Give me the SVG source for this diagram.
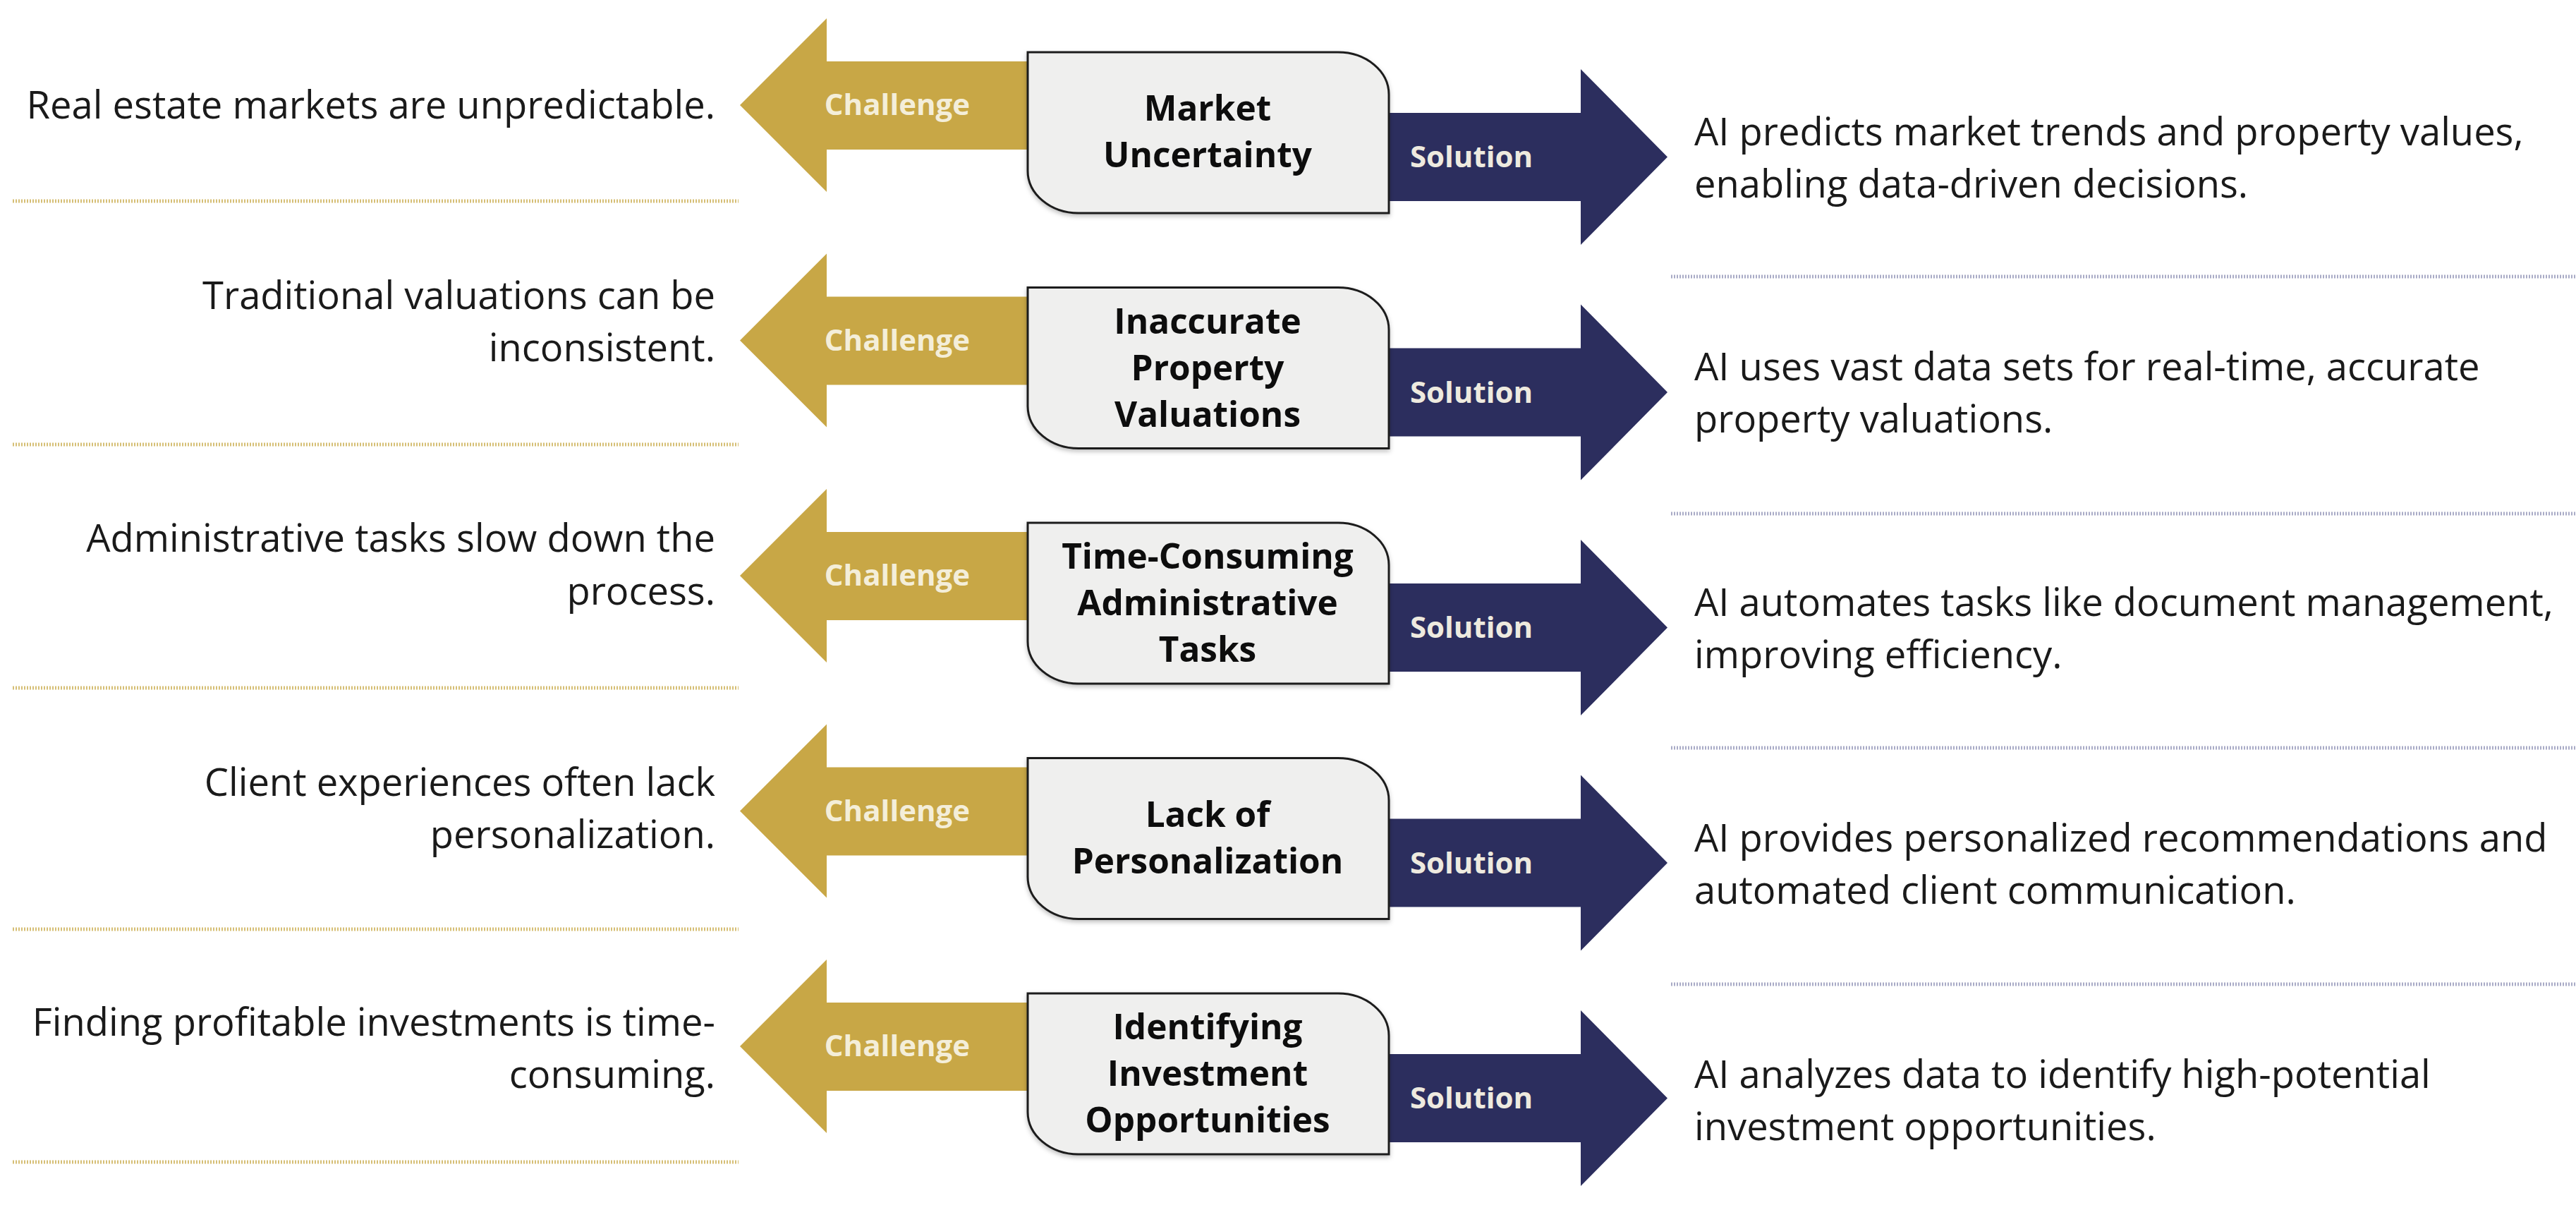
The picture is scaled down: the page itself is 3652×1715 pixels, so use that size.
<svg xmlns="http://www.w3.org/2000/svg" xmlns:xlink="http://www.w3.org/1999/xlink" width="3652" height="1715" viewBox="0 0 3652 1715">
<style>
.gold{fill:#C8A746}
.navy{fill:#2C2E5E}
.box{fill:#EFEFEE;stroke:#1E1E1E;stroke-width:3}
.lbl{font-family:"Open Sans","Liberation Sans",sans-serif;font-weight:700;font-size:42px;text-anchor:middle}
.clbl{fill:#F4EED9}
.slbl{fill:#EEEADF}
.title{font-family:"Open Sans","Liberation Sans",sans-serif;font-weight:700;font-size:49.5px;fill:#0D0D0D;text-anchor:middle}
.desc{font-family:"Open Sans","Liberation Sans",sans-serif;font-size:54.3px;fill:#1A1A1A}
.left{text-anchor:end}
.gline{stroke:#D6BF76;stroke-width:5;stroke-dasharray:2 2}
.bline{stroke:#A9ABC6;stroke-width:5;stroke-dasharray:2 2}
</style>
<defs>
<path id="garrow" d="M1049,149 L1172,26 L1172,87 L1470,87 L1470,212 L1172,212 L1172,272 Z"/>
<path id="barrow" d="M1960,160 L2241,160 L2241,98 L2364,222.5 L2241,347 L2241,285 L1960,285 Z"/>
<path id="nodebox" d="M1457,74 H1897 A72,60 0 0 1 1969,134 V302 H1529 A72,60 0 0 1 1457,242 Z"/>
<filter id="sh" x="-5%" y="-5%" width="110%" height="115%">
<feDropShadow dx="0" dy="3" stdDeviation="3" flood-color="#000" flood-opacity="0.25"/>
</filter>
</defs>
<rect width="3652" height="1715" fill="#FFFFFF"/>

<g id="separators">
<line class="gline" x1="18" y1="285" x2="1047" y2="285"/>
<line class="gline" x1="18" y1="630" x2="1047" y2="630"/>
<line class="gline" x1="18" y1="975" x2="1047" y2="975"/>
<line class="gline" x1="18" y1="1317" x2="1047" y2="1317"/>
<line class="gline" x1="18" y1="1647" x2="1047" y2="1647"/>
<line class="bline" x1="2369" y1="392" x2="3652" y2="392"/>
<line class="bline" x1="2369" y1="728" x2="3652" y2="728"/>
<line class="bline" x1="2369" y1="1060" x2="3652" y2="1060"/>
<line class="bline" x1="2369" y1="1395" x2="3652" y2="1395"/>
</g>

<g id="connectors">
<g id="challenge-1"><use xlink:href="#garrow" class="gold"/><text class="lbl clbl" x="1272" y="163">Challenge</text></g>
<g id="solution-1"><use xlink:href="#barrow" class="navy"/><text class="lbl slbl" x="2086" y="237">Solution</text></g>
<g id="challenge-2" transform="translate(0,333.5)"><use xlink:href="#garrow" class="gold"/><text class="lbl clbl" x="1272" y="163">Challenge</text></g>
<g id="solution-2" transform="translate(0,333.5)"><use xlink:href="#barrow" class="navy"/><text class="lbl slbl" x="2086" y="237">Solution</text></g>
<g id="challenge-3" transform="translate(0,667)"><use xlink:href="#garrow" class="gold"/><text class="lbl clbl" x="1272" y="163">Challenge</text></g>
<g id="solution-3" transform="translate(0,667)"><use xlink:href="#barrow" class="navy"/><text class="lbl slbl" x="2086" y="237">Solution</text></g>
<g id="challenge-4" transform="translate(0,1000.5)"><use xlink:href="#garrow" class="gold"/><text class="lbl clbl" x="1272" y="163">Challenge</text></g>
<g id="solution-4" transform="translate(0,1000.5)"><use xlink:href="#barrow" class="navy"/><text class="lbl slbl" x="2086" y="237">Solution</text></g>
<g id="challenge-5" transform="translate(0,1334)"><use xlink:href="#garrow" class="gold"/><text class="lbl clbl" x="1272" y="163">Challenge</text></g>
<g id="solution-5" transform="translate(0,1334)"><use xlink:href="#barrow" class="navy"/><text class="lbl slbl" x="2086" y="237">Solution</text></g>
</g>

<g id="node-market-uncertainty">
<use xlink:href="#nodebox" class="box" filter="url(#sh)"/>
<text class="title" x="1712" y="171">Market</text>
<text class="title" x="1712" y="237">Uncertainty</text>
</g>
<g id="node-inaccurate-valuations" transform="translate(0,333.5)">
<use xlink:href="#nodebox" class="box" filter="url(#sh)"/>
<text class="title" x="1712" y="139">Inaccurate</text>
<text class="title" x="1712" y="205">Property</text>
<text class="title" x="1712" y="271">Valuations</text>
</g>
<g id="node-admin-tasks" transform="translate(0,667)">
<use xlink:href="#nodebox" class="box" filter="url(#sh)"/>
<text class="title" x="1712" y="139">Time-Consuming</text>
<text class="title" x="1712" y="205">Administrative</text>
<text class="title" x="1712" y="271">Tasks</text>
</g>
<g id="node-personalization" transform="translate(0,1000.5)">
<use xlink:href="#nodebox" class="box" filter="url(#sh)"/>
<text class="title" x="1712" y="171">Lack of</text>
<text class="title" x="1712" y="237">Personalization</text>
</g>
<g id="node-investment" transform="translate(0,1334)">
<use xlink:href="#nodebox" class="box" filter="url(#sh)"/>
<text class="title" x="1712" y="139">Identifying</text>
<text class="title" x="1712" y="205">Investment</text>
<text class="title" x="1712" y="271">Opportunities</text>
</g>

<g id="challenges-text">
<text class="desc left" x="1014" y="168">Real estate markets are unpredictable.</text>
<text class="desc left" x="1014" y="438">Traditional valuations can be</text>
<text class="desc left" x="1014" y="512">inconsistent.</text>
<text class="desc left" x="1014" y="782">Administrative tasks slow down the</text>
<text class="desc left" x="1014" y="857">process.</text>
<text class="desc left" x="1014" y="1128">Client experiences often lack</text>
<text class="desc left" x="1014" y="1202">personalization.</text>
<text class="desc left" x="1014" y="1468">Finding profitable investments is time-</text>
<text class="desc left" x="1014" y="1542">consuming.</text>
</g>

<g id="solutions-text">
<text class="desc" x="2402" y="206">AI predicts market trends and property values,</text>
<text class="desc" x="2402" y="280">enabling data-driven decisions.</text>
<text class="desc" x="2402" y="539">AI uses vast data sets for real-time, accurate</text>
<text class="desc" x="2402" y="613">property valuations.</text>
<text class="desc" x="2402" y="873">AI automates tasks like document management,</text>
<text class="desc" x="2402" y="947">improving efficiency.</text>
<text class="desc" x="2402" y="1207">AI provides personalized recommendations and</text>
<text class="desc" x="2402" y="1281">automated client communication.</text>
<text class="desc" x="2402" y="1542">AI analyzes data to identify high-potential</text>
<text class="desc" x="2402" y="1616">investment opportunities.</text>
</g>
</svg>
